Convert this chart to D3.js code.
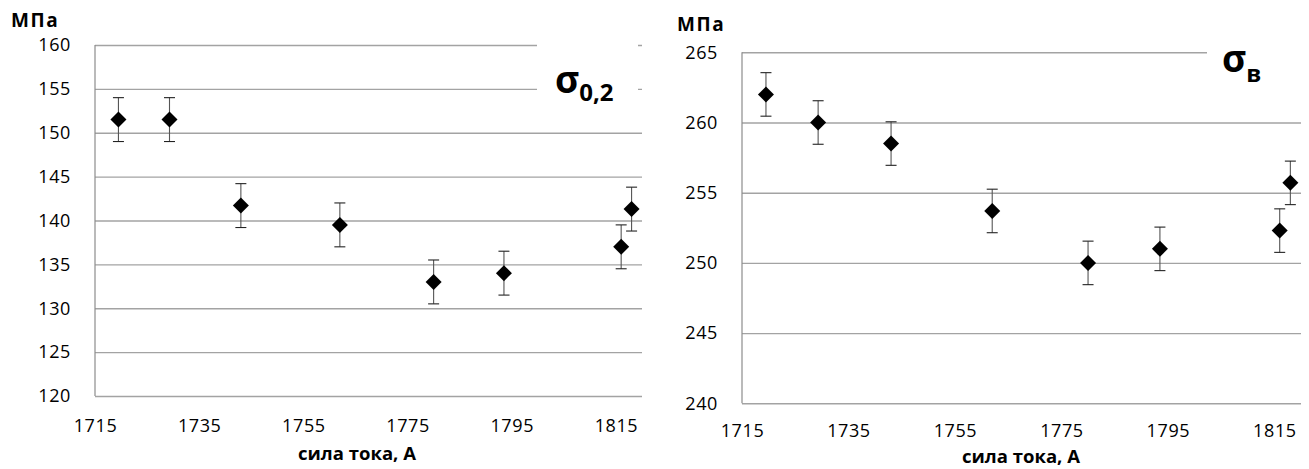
<!DOCTYPE html>
<html>
<head>
<meta charset="utf-8">
<script src="https://cdn.jsdelivr.net/npm/d3@7"></script>
<style>
  body { margin: 0; background: #fff; }
  svg { display: block; }
  text { font-family: "Open Sans", "Lato", sans-serif; fill: #000; }
</style>
</head>
<body>
<svg id="chart" width="1309" height="469"></svg>
<script>
// Welding current, A (shared by both panels)
const currentA = [1719.5, 1729.3, 1743, 1762, 1780, 1793.5, 1816, 1818];

// Yield strength σ0,2, MPa
const yieldStress = [151.5, 151.5, 141.7, 139.5, 133, 134, 137, 141.3];
const yieldErr = 2.5;

// Ultimate tensile strength σв, MPa
const tensileStress = [262, 260, 258.5, 253.7, 250, 251, 252.3, 255.7];
const tensileErr = 1.55;

// Axis ticks
const xTicks = [1715, 1735, 1755, 1775, 1795, 1815];
const xDomain = [1715, 1820];
const yieldTicks = [120, 125, 130, 135, 140, 145, 150, 155, 160];
const tensileTicks = [240, 245, 250, 255, 260, 265];

const unitLabel = "МПа";
const xTitle = "сила тока, А";

const svg = d3.select("#chart");

function styleTickText(sel) {
  sel.attr("font-family", "\"Open Sans\", sans-serif")
    .attr("font-size", 18)
    .attr("letter-spacing", 0.6)
    .attr("fill", "#000");
}

function drawPanel(opt) {
  const g = svg.append("g");
  const x = d3.scaleLinear().domain(xDomain).range([opt.left, opt.right]);
  const y = d3.scaleLinear().domain(opt.yDomain).range([opt.bottom, opt.top]);

  // horizontal gridlines
  g.append("g")
    .attr("transform", `translate(${opt.left},0)`)
    .call(d3.axisLeft(y).tickValues(opt.yTicks).tickSize(-(opt.right - opt.left)).tickFormat(""))
    .call(a => a.select(".domain").remove())
    .call(a => a.selectAll("line").attr("stroke", "#a3a3a3").attr("stroke-width", 1.4));

  // vertical axis line
  g.append("line")
    .attr("x1", opt.left).attr("x2", opt.left)
    .attr("y1", y(opt.yDomain[1])).attr("y2", y(opt.yDomain[0]))
    .attr("stroke", "#8c8c8c").attr("stroke-width", 1.2);

  // y tick labels
  g.append("g")
    .attr("transform", `translate(${opt.left},0)`)
    .call(d3.axisLeft(y).tickValues(opt.yTicks).tickSize(0).tickPadding(opt.yPad).tickFormat(d3.format("d")))
    .call(a => a.select(".domain").remove())
    .call(a => styleTickText(a.selectAll("text")));

  // x tick labels
  g.append("g")
    .attr("transform", `translate(0,${opt.bottom})`)
    .call(d3.axisBottom(x).tickValues(xTicks).tickSize(0).tickFormat(d3.format("d")))
    .call(a => a.select(".domain").remove())
    .call(a => styleTickText(a.selectAll("text").attr("y", opt.xLabelOffset).attr("dy", "0.35em")));

  // axis titles
  g.append("text")
    .attr("x", opt.unitX).attr("y", opt.unitY)
    .attr("font-size", 19).attr("font-weight", "bold")
    .attr("letter-spacing", 1.6)
    .text(unitLabel);

  g.append("text")
    .attr("x", opt.titleX).attr("y", opt.titleY)
    .attr("text-anchor", "middle")
    .attr("font-size", 18.5).attr("font-weight", "bold")
    .text(xTitle);

  // label box for the quantity symbol
  g.append("rect")
    .attr("x", opt.box[0]).attr("y", opt.box[1])
    .attr("width", opt.box[2]).attr("height", opt.box[3])
    .attr("fill", "#fff");

  const sym = g.append("text")
    .attr("x", opt.symX).attr("y", opt.symY)
    .attr("font-weight", "bold");
  sym.append("tspan").attr("font-size", 37).text("σ");
  sym.append("tspan").attr("font-size", 24).attr("dy", opt.subDy).text(opt.sub);

  // error bars
  const pts = currentA.map((c, i) => ({ c, v: opt.values[i] }));
  const eb = g.append("g").attr("stroke", "#555").attr("stroke-width", 1.1);
  pts.forEach(p => {
    const cx = x(p.c);
    const yTop = y(p.v + opt.err), yBot = y(p.v - opt.err);
    eb.append("line").attr("x1", cx).attr("x2", cx).attr("y1", yTop).attr("y2", yBot);
    eb.append("line").attr("x1", cx - 5.5).attr("x2", cx + 5.5).attr("y1", yTop).attr("y2", yTop).attr("stroke", "#222");
    eb.append("line").attr("x1", cx - 5.5).attr("x2", cx + 5.5).attr("y1", yBot).attr("y2", yBot).attr("stroke", "#222");
  });

  // diamond markers
  g.append("g").selectAll("path")
    .data(pts)
    .join("path")
    .attr("d", d3.symbol(d3.symbolSquare, 128))
    .attr("transform", d => `translate(${x(d.c)},${y(d.v)}) rotate(45)`)
    .attr("fill", "#000");
}

drawPanel({
  left: 95, right: 642, top: 45, bottom: 396,
  yDomain: [120, 160], yTicks: yieldTicks,
  values: yieldStress, err: yieldErr,
  yPad: 24, xLabelOffset: 30,
  unitX: 11, unitY: 27,
  titleX: 357, titleY: 460,
  box: [537, 30, 101, 80],
  symX: 555, symY: 93, sub: "0,2", subDy: 8
});

drawPanel({
  left: 742, right: 1301, top: 52.3, bottom: 403.3,
  yDomain: [240, 265], yTicks: tensileTicks,
  values: tensileStress, err: tensileErr,
  yPad: 24, xLabelOffset: 27,
  unitX: 677, unitY: 31,
  titleX: 1021, titleY: 463,
  box: [1207, 35, 98, 55],
  symX: 1222, symY: 72, sub: "в", subDy: 10
});
</script>
</body>
</html>
